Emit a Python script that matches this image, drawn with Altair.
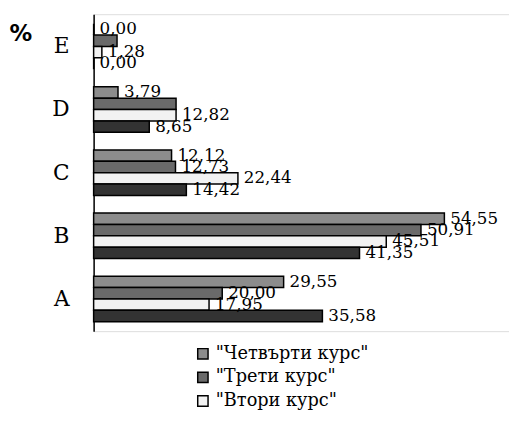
import altair as alt
import pandas as pd

categories = ["A", "B", "C", "D", "E"]
series = ["Четвърти курс", "Трети курс", "Втори курс", "Първи курс"]
values_4 = [29.55, 54.55, 12.12, 3.79, 0.00]
values_3 = [20.00, 50.91, 12.73, 12.82, 3.64]
values_2 = [17.95, 45.51, 22.44, 12.82, 1.28]
values_1 = [35.58, 41.35, 14.42, 8.65, 0.00]
hidden_labels = [("D", "Трети курс"), ("E", "Трети курс")]
legend_series = series[:3]
fills = ["#8c8c8c", "#6a6a6a", "#f2f2f2", "#333333"]

rows = []
for s, vals in zip(series, [values_4, values_3, values_2, values_1]):
    for c, v in zip(categories, vals):
        lab = "" if (c, s) in hidden_labels else f"{v:.2f}".replace(".", ",")
        rows.append({"cat": c, "series": s, "value": v, "label": lab})
df = pd.DataFrame(rows)

y_enc = alt.Y(
    "cat:N",
    sort=["E", "D", "C", "B", "A"],
    scale=alt.Scale(paddingInner=0.28, paddingOuter=0.15),
    axis=alt.Axis(title=None, ticks=False, labelPadding=25, labelFont="DejaVu Serif",
                  labelFontSize=22, labelColor="black", domainColor="black",
                  domainWidth=1.5, grid=False),
)
x_enc = alt.X("value:Q", scale=alt.Scale(domain=[0, 64.6]), axis=None)
yoff = alt.YOffset("series:N", sort=series, scale=alt.Scale(paddingInner=0, paddingOuter=0))

base = alt.Chart(df)
bars = base.mark_bar(stroke="black", strokeWidth=1.5).encode(
    x=x_enc,
    y=y_enc,
    yOffset=yoff,
    color=alt.Color(
        "series:N",
        scale=alt.Scale(domain=series, range=fills),
        legend=alt.Legend(values=legend_series, title=None, orient="none",
                          legendX=102, legendY=336, symbolType="square",
                          symbolSize=110, symbolStrokeColor="black",
                          symbolStrokeWidth=1.5, labelFont="DejaVu Serif",
                          labelFontSize=18, labelColor="black",
                          labelExpr="'\"' + datum.label + '\"'",
                          rowPadding=6, symbolOpacity=1),
    ),
)
labels = base.mark_text(align="left", baseline="middle", dx=6, font="DejaVu Serif",
                        fontSize=17, color="black").encode(
    x=x_enc, y=y_enc, yOffset=yoff, text="label:N"
)
pct = alt.Chart(pd.DataFrame({"t": ["%"]})).mark_text(
    font="DejaVu Sans", fontWeight="bold", fontSize=23, align="center", baseline="middle",
    color="black"
).encode(x=alt.value(-74), y=alt.value(20), text="t:N")

chart = alt.layer(bars, labels, pct).properties(
    width=422, height=322,
    autosize=alt.AutoSizeParams(type="none"),
    padding={"left": 87, "top": 3, "right": 0, "bottom": 88},
).configure_view(stroke=None).configure(background="white")

chart.save("out.html", embed_options={"renderer": "svg", "actions": False})
